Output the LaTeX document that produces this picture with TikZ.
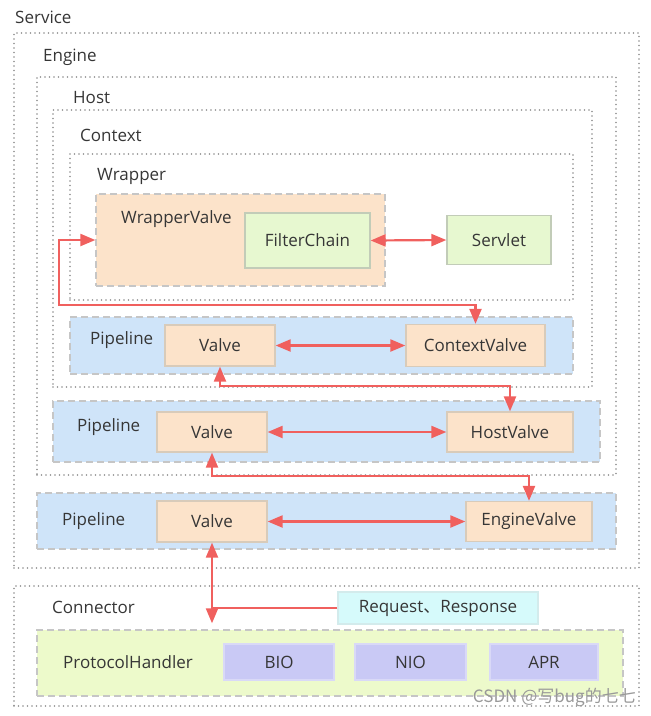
\documentclass[tikz,border=0pt]{standalone}
\usepackage{fontspec}
\setmainfont{Open Sans}
\newfontfamily\cjk{Noto Sans CJK SC}
\usepackage{xcolor}
\usepackage{tikz}
\usetikzlibrary{arrows.meta}
\usetikzlibrary{positioning}

\definecolor{txt}{HTML}{363636}
\definecolor{dots}{HTML}{8E8E8E}
\definecolor{dash}{HTML}{C6C6C6}
\definecolor{pipefill}{HTML}{CFE4F9}
\definecolor{valvefill}{HTML}{FCE3CA}
\definecolor{valveline}{HTML}{D8CBBA}
\definecolor{leaffill}{HTML}{E7F8D0}
\definecolor{leafline}{HTML}{C2CCB8}
\definecolor{phfill}{HTML}{EDFACB}
\definecolor{reqfill}{HTML}{D6FAFB}
\definecolor{reqline}{HTML}{D3EBEC}
\definecolor{iofill}{HTML}{C9C9F5}
\definecolor{ioline}{HTML}{D9D9F7}
\definecolor{flowred}{HTML}{F0605E}

\tikzset{
  every node/.style={font=\fontsize{17}{20}\selectfont, text=txt, inner sep=0pt},
  frame/.style={draw=dots, line width=1.8pt, line cap=round, dash pattern=on 0pt off 4.5pt},
  pipe/.style={draw=dash, fill=pipefill, line width=1.4pt, dash pattern=on 7pt off 4pt},
  valve/.style={draw=valveline, fill=valvefill, line width=1.3pt},
  leaf/.style={draw=leafline, fill=leaffill, line width=1.3pt},
  iobox/.style={draw=ioline, fill=iofill, line width=1.2pt},
  lbl/.style={anchor=west},
  flow/.style={draw=flowred, line width=2.2pt, {Triangle[length=15pt,width=12pt]}-{Triangle[length=15pt,width=12pt]}},
}

\begin{document}
\begin{tikzpicture}[x=1pt, y=-1pt]
\useasboundingbox (0,0) rectangle (651,716);

% containers
\node[frame, minimum width=625pt, minimum height=535pt] (engine) at (326.5,300.5) {};
\node[frame, minimum width=579pt, minimum height=398pt] (host) at (326.5,276) {};
\node[frame, minimum width=539pt, minimum height=277pt] (context) at (322.5,248.5) {};
\node[frame, minimum width=503pt, minimum height=146pt] (wrapper) at (321.5,227) {};
\node[frame, minimum width=625pt, minimum height=120pt] (connector) at (326.5,646) {};

\node[lbl] (lService) at (15,17) {Service};
\node[lbl] (lEngine) at (43,57) {Engine};
\node[lbl] (lHost) at (73,98) {Host};
\node[lbl] (lContext) at (80,135) {Context};
\node[lbl] (lWrapper) at (97,176) {Wrapper};

% Wrapper
\node[valve, draw=dash, dash pattern=on 7pt off 4pt, minimum width=289pt, minimum height=92pt] (wv) at (240.5,240) {};
\node[lbl] (lWv) at (121,219) {WrapperValve};
\node[leaf, minimum width=125pt, minimum height=55pt] (fc) at (307.5,240.5) {FilterChain};
\node[leaf, minimum width=104pt, minimum height=49pt] (servlet) at (499,240) {Servlet};

% Pipelines
\node[pipe, minimum width=503pt, minimum height=57pt] (pipe1) at (321.5,345.5) {};
\node[lbl] (lPipe1) at (90,340) {Pipeline};
\node[valve, minimum width=110pt, minimum height=41pt] (v1) at (220,345.5) {Valve};
\node[valve, minimum width=139pt, minimum height=42pt] (cvalve) at (475.5,345.5) {ContextValve};

\node[pipe, minimum width=547pt, minimum height=61pt] (pipe2) at (326.5,431.5) {};
\node[lbl] (lPipe2) at (77,427) {Pipeline};
\node[valve, minimum width=110pt, minimum height=40pt] (v2) at (212,432) {Valve};
\node[valve, minimum width=126pt, minimum height=40pt] (hvalve) at (510,432) {HostValve};

\node[pipe, minimum width=579pt, minimum height=56pt] (pipe3) at (326.5,521) {};
\node[lbl] (lPipe3) at (62,521) {Pipeline};
\node[valve, minimum width=110pt, minimum height=41pt] (v3) at (212,521.5) {Valve};
\node[valve, minimum width=126pt, minimum height=40pt] (evalve) at (529,521.5) {EngineValve};

% Connector
\node[lbl] (lConnector) at (52,607) {Connector};
\node[draw=reqline, fill=reqfill, line width=1.2pt, minimum width=200pt, minimum height=32pt] (req) at (438,608) {Request{\cjk 、}Response};
\node[pipe, fill=phfill, minimum width=586pt, minimum height=66pt] (ph) at (330,663) {};
\node[lbl] (lPh) at (63,662) {ProtocolHandler};
\node[iobox, minimum width=110pt, minimum height=36pt] (bio) at (279,662) {BIO};
\node[iobox, minimum width=111pt, minimum height=36pt] (nio) at (410.5,662) {NIO};
\node[iobox, minimum width=108pt, minimum height=36pt] (apr) at (544,662) {APR};

\node[anchor=east, text=black!40, font=\cjk\fontsize{17}{19}\selectfont] (mark) at (636,697) {CSDN @写bug的七七};

% Connect the nodes
\coordinate (wbus) at (59,305);
\coordinate (hbus) at (510,386);
\coordinate (ebus) at (529,476);
\draw[flow] (fc.east) -- (servlet.west);
\draw[flow] (wv.west) -| (wbus) -| (cvalve.north);
\draw[flow] (v1.east) -- (cvalve.west);
\draw[flow] (v1.south) |- (hbus) -- (hvalve.north);
\draw[flow] (v2.east) -- (hvalve.west);
\draw[flow] (v2.south) |- (ebus) -- (evalve.north);
\draw[flow] (v3.east) -- (evalve.west);
\draw[flow, shorten >=6pt] (v3.south) -- (v3.south |- ph.north);
\draw[flowred, line width=2.2pt] (req.west) -- (v3.south |- req.west);
\end{tikzpicture}
\end{document}
